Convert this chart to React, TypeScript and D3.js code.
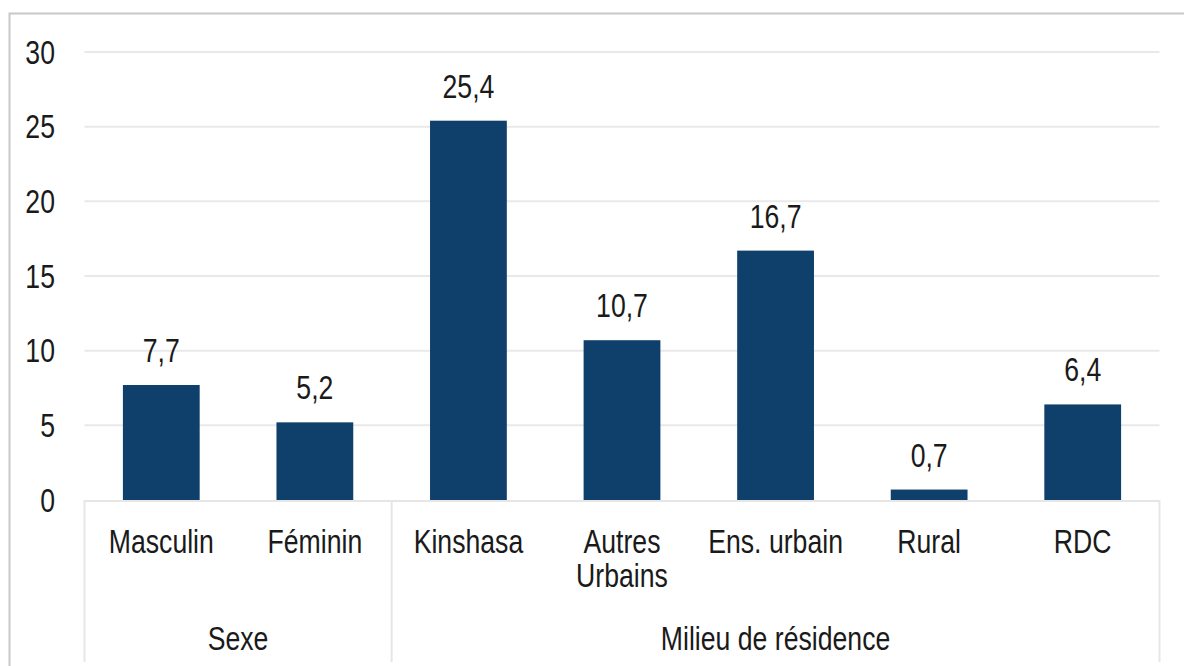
import React from "react";
import * as d3 from "d3";

const categories = ["Masculin", "Féminin", "Kinshasa", "Autres Urbains", "Ens. urbain", "Rural", "RDC"];
const categoryLines = [["Masculin"], ["Féminin"], ["Kinshasa"], ["Autres", "Urbains"], ["Ens. urbain"], ["Rural"], ["RDC"]];
const values = [7.7, 5.2, 25.4, 10.7, 16.7, 0.7, 6.4];
const valueLabels = ["7,7", "5,2", "25,4", "10,7", "16,7", "0,7", "6,4"];
const groups = ["Sexe", "Milieu de résidence"];
const groupSizes = [2, 5];
const yTicks = [0, 5, 10, 15, 20, 25, 30];

const W = 1184;
const H = 666;
const left = 84.5;
const right = 1159.5;
const top = 52;
const bottom = 500;
const FONT = "'Liberation Sans Narrow', 'Arial Narrow', 'Liberation Sans', Arial, sans-serif";
const FS = 32.5;
const SX = 0.82;

function T({ x, y, anchor = "middle", dy, children }: { x: number; y: number; anchor?: string; dy?: string; children: React.ReactNode }) {
  return (
    <text
      transform={`translate(${x},${y}) scale(${SX},1)`}
      textAnchor={anchor}
      dy={dy}
      fontSize={FS}
      fill="#1a1a1a"
    >
      {children}
    </text>
  );
}

export default function App() {
  const x = d3.scaleBand<string>().domain(categories).range([left, right]).paddingInner(0.5).paddingOuter(0.25);
  const y = d3.scaleLinear().domain([0, 30]).range([bottom, top]);
  const step = x.step();

  let idx = 0;
  const groupBounds = groupSizes.map((n, i) => {
    const start = idx;
    idx += n;
    return { name: groups[i], x0: left + start * step, x1: left + idx * step };
  });

  return (
    <svg width={W} height={H} style={{ position: "absolute", left: 0, top: 0 }} fontFamily={FONT}>
      <rect x={0} y={0} width={W} height={H} fill="#fff" />
      <path d={`M9.5,${H}V13.5H${W}`} fill="none" stroke="#c8c8c8" strokeWidth={2} />
      {yTicks.map((t) => (
        <g key={t}>
          {t > 0 && <line x1={left} x2={right} y1={y(t)} y2={y(t)} stroke="#e9e9e9" strokeWidth={2} />}
          <T x={55} y={y(t)} anchor="end" dy="0.36em">
            {t}
          </T>
        </g>
      ))}
      {categories.map((c, i) => {
        const cx = (x(c) as number) + x.bandwidth() / 2;
        return (
          <g key={c}>
            <rect x={x(c)} y={y(values[i])} width={x.bandwidth()} height={bottom - y(values[i])} fill="#0f406b" />
            <T x={cx} y={y(values[i]) - 23}>{valueLabels[i]}</T>
            {categoryLines[i].map((ln, j) => (
              <T key={j} x={cx} y={553 + j * 34}>{ln}</T>
            ))}
          </g>
        );
      })}
      <line x1={left} x2={right} y1={bottom + 1} y2={bottom + 1} stroke="#e6e6e6" strokeWidth={2} />
      {[groupBounds[0].x0, groupBounds[0].x1, groupBounds[1].x1].map((gx, i) => (
        <line key={i} x1={gx} x2={gx} y1={bottom} y2={662} stroke="#e6e6e6" strokeWidth={2} />
      ))}
      {groupBounds.map((g) => (
        <T key={g.name} x={(g.x0 + g.x1) / 2} y={650}>{g.name}</T>
      ))}
    </svg>
  );
}
